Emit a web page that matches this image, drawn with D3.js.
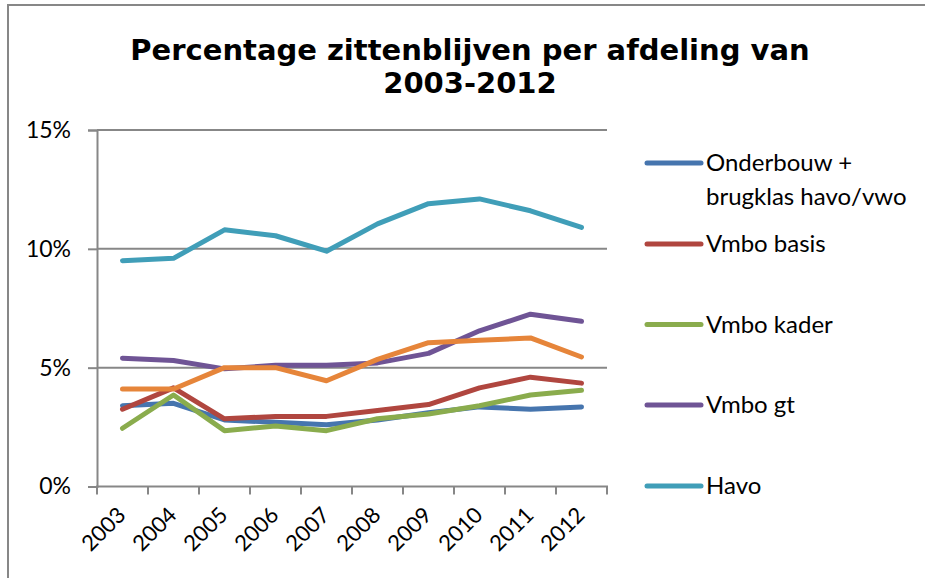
<!DOCTYPE html>
<html lang="nl">
<head>
<meta charset="utf-8">
<script src="https://d3js.org/d3.v7.min.js"></script>
<style>
  body { margin: 0; background: #fff; }
  svg text { font-family: Lato, "Open Sans", sans-serif; fill: #000; }
  .title { font-family: "DejaVu Sans", Verdana, sans-serif; font-weight: bold; font-size: 29px; }
</style>
</head>
<body>
<svg id="chart" width="925" height="578"></svg>
<script>
  var years = ["2003","2004","2005","2006","2007","2008","2009","2010","2011","2012"]
  var yTicks = [0, 5, 10, 15]

  var onderbouw = [3.4, 3.5, 2.8, 2.7, 2.6, 2.8, 3.1, 3.35, 3.25, 3.35]
  var vmboBasis = [3.25, 4.15, 2.85, 2.95, 2.95, 3.2, 3.45, 4.15, 4.6, 4.35]
  var vmboKader = [2.45, 3.85, 2.35, 2.55, 2.35, 2.85, 3.05, 3.4, 3.85, 4.05]
  var vmboGt    = [5.4, 5.3, 4.95, 5.1, 5.1, 5.2, 5.6, 6.55, 7.25, 6.95]
  var havo      = [9.5, 9.6, 10.8, 10.55, 9.9, 11.05, 11.9, 12.1, 11.6, 10.9]
  var vwo       = [4.1, 4.1, 5.0, 5.0, 4.45, 5.35, 6.05, 6.15, 6.25, 5.45]

  var seriesNames = ["Onderbouw + brugklas havo/vwo", "Vmbo basis", "Vmbo kader", "Vmbo gt", "Havo", "Vwo"]
  var seriesColors = ["#4675ae", "#b0463f", "#8aac4d", "#6f5495", "#409eb8", "#e6853a"]
  var seriesValues = [onderbouw, vmboBasis, vmboKader, vmboGt, havo, vwo]
  // legend is cut off by the frame, only the first five show
  var legendCount = 5

  var svg = d3.select("#chart")
  var grid = "#878787"

  // frame around the chart
  svg.append("line").attr("x1", 7).attr("x2", 925).attr("y1", 5).attr("y2", 5)
      .attr("stroke", grid).attr("stroke-width", 2)
  svg.append("line").attr("x1", 8).attr("x2", 8).attr("y1", 5).attr("y2", 578)
      .attr("stroke", grid).attr("stroke-width", 2)

  svg.append("text").attr("class", "title").attr("x", 470).attr("y", 60)
      .attr("text-anchor", "middle").text("Percentage zittenblijven per afdeling van")
  svg.append("text").attr("class", "title").attr("x", 470).attr("y", 93)
      .attr("text-anchor", "middle").text("2003-2012")

  var x = d3.scaleBand().domain(years).range([97, 607])
  var y = d3.scaleLinear().domain([0, 15]).range([486.5, 130])

  // gridlines
  svg.append("g").selectAll("line").data(yTicks.slice(1)).enter().append("line")
      .attr("x1", 97).attr("x2", 607).attr("y1", d => y(d)).attr("y2", d => y(d))
      .attr("stroke", grid).attr("stroke-width", 2)

  var yAxis = svg.append("g").attr("transform", "translate(97,0)")
      .call(d3.axisLeft(y).tickValues(yTicks).tickSize(9).tickPadding(17).tickFormat(d => d + "%"))
  yAxis.select(".domain").attr("stroke", grid).attr("stroke-width", 2)
  yAxis.selectAll(".tick line").attr("stroke", grid).attr("stroke-width", 2)
  yAxis.selectAll(".tick text").attr("font-size", "23px").attr("font-family", "Lato").attr("fill", "#000")

  // x axis, ticks between categories
  var bounds = years.map(d => x(d)).concat([x(years[years.length-1]) + x.bandwidth()])
  svg.append("line").attr("x1", 96).attr("x2", 608).attr("y1", y(0)).attr("y2", y(0))
      .attr("stroke", grid).attr("stroke-width", 2)
  svg.append("g").selectAll("line").data(bounds).enter().append("line")
      .attr("x1", d => d).attr("x2", d => d).attr("y1", y(0)).attr("y2", y(0) + 8)
      .attr("stroke", grid).attr("stroke-width", 2)
  svg.append("g").selectAll("text").data(years).enter().append("text")
      .attr("transform", d => "translate(" + (x(d) + x.bandwidth()/2 - 1) + ",511) rotate(-45)")
      .attr("text-anchor", "end").attr("dy", "0.35em").attr("font-size", "22px")
      .text(d => d)

  var line = d3.line().x((d, i) => x(years[i]) + x.bandwidth()/2).y(d => y(d))
  svg.append("g").selectAll("path").data(seriesValues).enter().append("path")
      .attr("d", d => line(d)).attr("fill", "none")
      .attr("stroke", (d, i) => seriesColors[i]).attr("stroke-width", 5)
      .attr("stroke-linejoin", "round").attr("stroke-linecap", "round")

  // legend
  var legendY = [163, 244, 324.5, 405, 486]
  var lg = svg.append("g").selectAll("g").data(seriesNames.slice(0, legendCount)).enter().append("g")
      .attr("transform", (d, i) => "translate(647," + legendY[i] + ")")
  lg.append("line").attr("x1", 0).attr("x2", 54).attr("y1", 0).attr("y2", 0)
      .attr("stroke", (d, i) => seriesColors[i]).attr("stroke-width", 5).attr("stroke-linecap", "round")
  lg.each(function(d) {
      var t = d3.select(this).append("text").attr("x", 59).attr("y", 0).attr("dy", "0.35em").attr("font-size", "24px")
      if (d.indexOf("Onderbouw") == 0) {
          t.append("tspan").attr("x", 59).text("Onderbouw +")
          t.append("tspan").attr("x", 59).attr("dy", "1.4em").text("brugklas havo/vwo")
      } else {
          t.text(d)
      }
  })
</script>
</body>
</html>
